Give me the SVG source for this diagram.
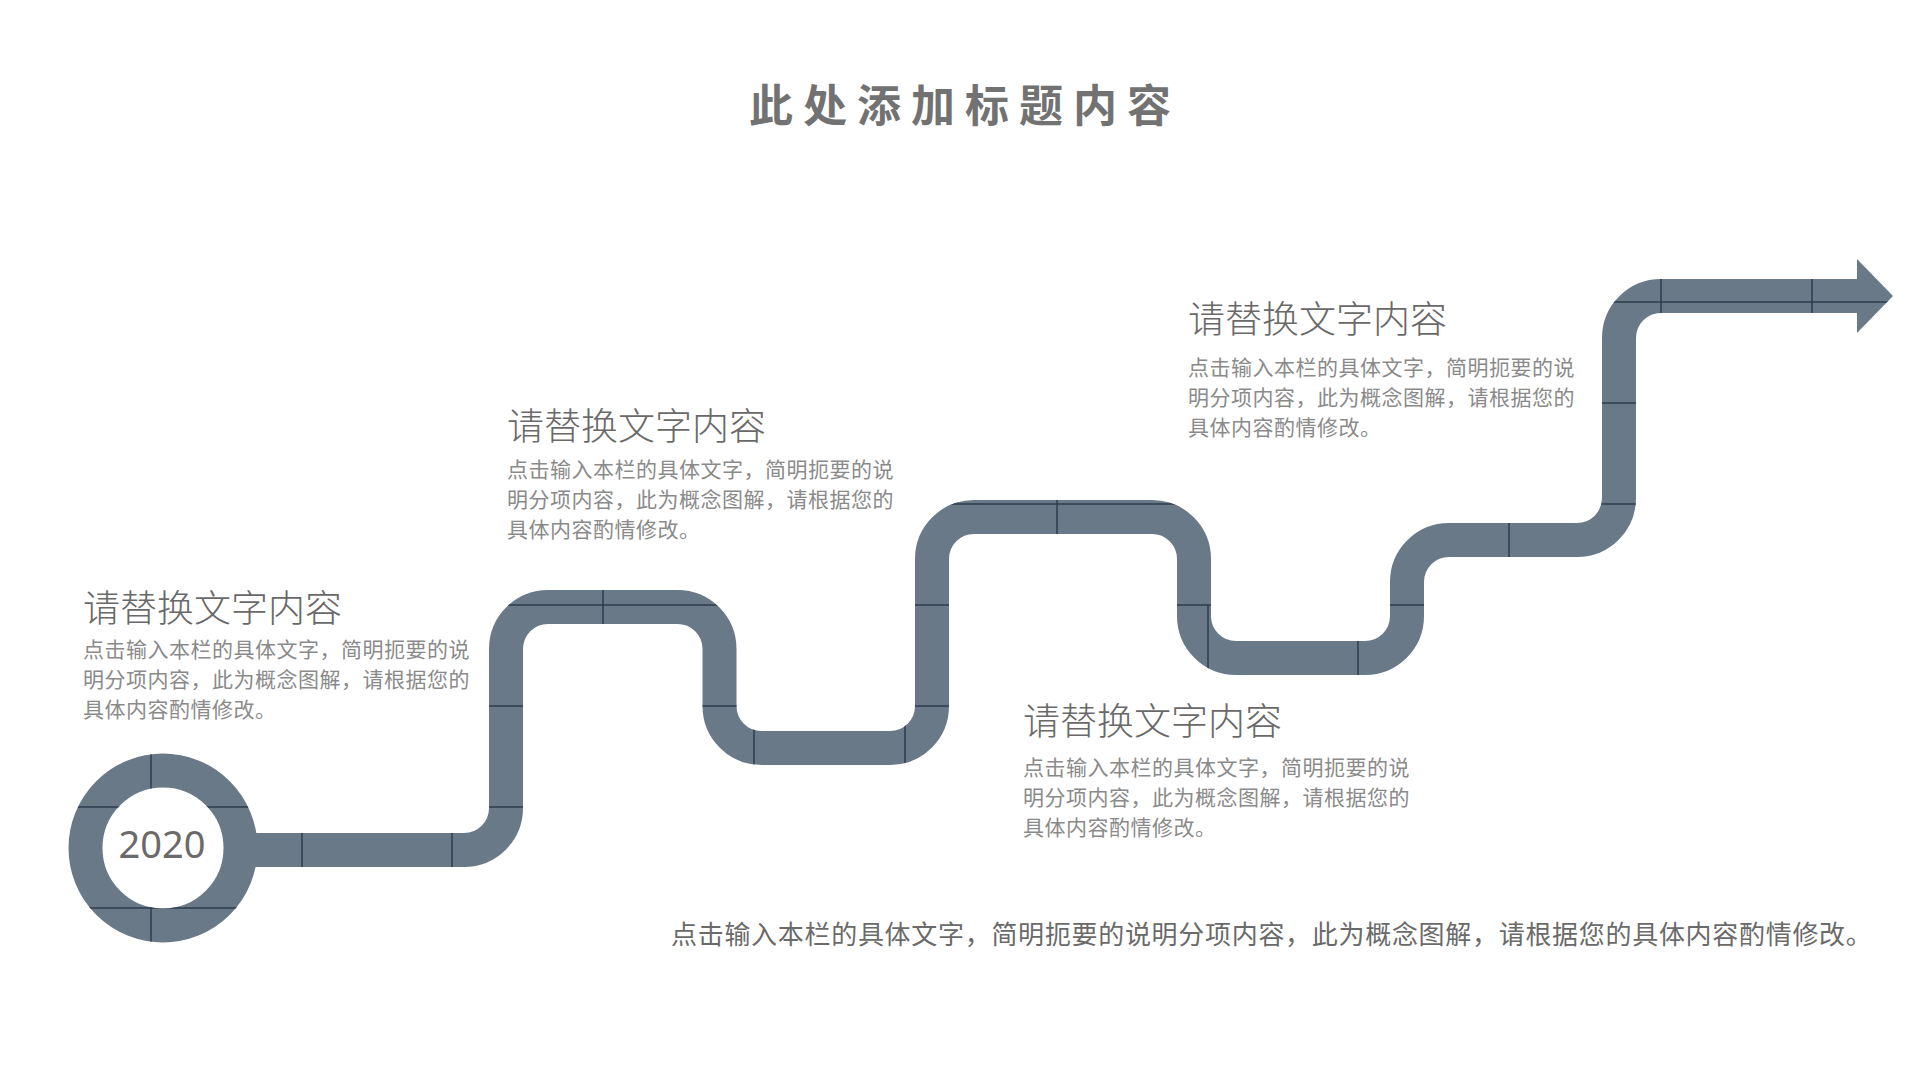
<svg xmlns="http://www.w3.org/2000/svg" width="1920" height="1080" viewBox="0 0 1920 1080">
<style>
.road{fill:none;stroke:#6a7987;stroke-width:34}
.seam{stroke:#2d3d4f;stroke-width:1.5;fill:none}
.title{font-family:"Noto Sans CJK SC","Noto Sans",sans-serif;font-size:44px;font-weight:bold;fill:#727272;letter-spacing:10px}
.head{font-family:"Noto Sans CJK SC","Noto Sans",sans-serif;font-size:37px;font-weight:300;fill:#696969}
.body{font-family:"Noto Sans CJK SC","Noto Sans",sans-serif;font-size:21px;fill:#8a8a8a;letter-spacing:0.5px}
.foot{font-family:"Noto Sans CJK SC","Noto Sans",sans-serif;font-size:26px;fill:#6a6a6a;letter-spacing:0.7px}
.year{font-family:"Noto Sans","Noto Sans CJK SC",sans-serif;font-size:38px;fill:#6a6a6a}
</style>
<defs>
<mask id="roadMask" maskUnits="userSpaceOnUse" x="0" y="0" width="1920" height="1080">
<circle cx="163" cy="848" r="77.5" fill="none" stroke="#fff" stroke-width="34"/>
<path d="M 240 850 H 464 A 42 42 0 0 0 506 808 V 649 A 42 42 0 0 1 548 607 H 677.5 A 42 42 0 0 1 719.5 649 V 706 A 42 42 0 0 0 761.5 748 H 890 A 42 42 0 0 0 932 706 V 559 A 42 42 0 0 1 974 517 H 1152 A 42 42 0 0 1 1194 559 V 616 A 42 42 0 0 0 1236 658 H 1365 A 42 42 0 0 0 1407 616 V 582 A 42 42 0 0 1 1449 540 H 1577 A 42 42 0 0 0 1619 498 V 338 A 42 42 0 0 1 1661 296 H 1858" fill="none" stroke="#fff" stroke-width="34"/>
<polygon points="1857,259 1893,296 1857,333" fill="#fff"/>
</mask>
</defs>
<rect width="1920" height="1080" fill="#ffffff"/>

<g id="title"><text class="title" x="965" y="122" text-anchor="middle">此处添加标题内容</text></g>

<g id="road">
<circle class="road" cx="163" cy="848" r="77.5"/>
<path class="road" d="M 240 850 H 464 A 42 42 0 0 0 506 808 V 649 A 42 42 0 0 1 548 607 H 677.5 A 42 42 0 0 1 719.5 649 V 706 A 42 42 0 0 0 761.5 748 H 890 A 42 42 0 0 0 932 706 V 559 A 42 42 0 0 1 974 517 H 1152 A 42 42 0 0 1 1194 559 V 616 A 42 42 0 0 0 1236 658 H 1365 A 42 42 0 0 0 1407 616 V 582 A 42 42 0 0 1 1449 540 H 1577 A 42 42 0 0 0 1619 498 V 338 A 42 42 0 0 1 1661 296 H 1858"/>
<polygon points="1857,259 1893,296 1857,333" fill="#6a7987"/>
</g>

<g id="connectors" mask="url(#roadMask)">
<path class="seam" d="M151 740 V960 M302 820 V880 M452 820 V880 M603 580 V640 M754 720 V780 M905 720 V780 M1057 490 V545 M1208 605 V695 M1358 630 V690 M1509 510 V570 M1661 270 V320 M1812 270 V320"/>
<path class="seam" d="M60 807 H540 M60 908 H270 M480 706 H960 M480 605 H1440 M930 504 H1650 M1590 403 H1650 M1600 302 H1900"/>
</g>

<g id="node-2020"><text class="year" x="162" y="858" text-anchor="middle">2020</text></g>

<g id="node-1">
<text class="head" x="83" y="622">请替换文字内容</text>
<text class="body" x="83" y="657">点击输入本栏的具体文字，简明扼要的说</text>
<text class="body" x="83" y="687">明分项内容，此为概念图解，请根据您的</text>
<text class="body" x="83" y="717">具体内容酌情修改。</text>
</g>

<g id="node-2">
<text class="head" x="507" y="440">请替换文字内容</text>
<text class="body" x="507" y="477">点击输入本栏的具体文字，简明扼要的说</text>
<text class="body" x="507" y="507">明分项内容，此为概念图解，请根据您的</text>
<text class="body" x="507" y="537">具体内容酌情修改。</text>
</g>

<g id="node-3">
<text class="head" x="1023" y="735">请替换文字内容</text>
<text class="body" x="1023" y="775">点击输入本栏的具体文字，简明扼要的说</text>
<text class="body" x="1023" y="805">明分项内容，此为概念图解，请根据您的</text>
<text class="body" x="1023" y="835">具体内容酌情修改。</text>
</g>

<g id="node-4">
<text class="head" x="1188" y="333">请替换文字内容</text>
<text class="body" x="1188" y="375">点击输入本栏的具体文字，简明扼要的说</text>
<text class="body" x="1188" y="405">明分项内容，此为概念图解，请根据您的</text>
<text class="body" x="1188" y="435">具体内容酌情修改。</text>
</g>

<g id="footer"><text class="foot" x="671" y="944">点击输入本栏的具体文字，简明扼要的说明分项内容，此为概念图解，请根据您的具体内容酌情修改。</text></g>
</svg>
